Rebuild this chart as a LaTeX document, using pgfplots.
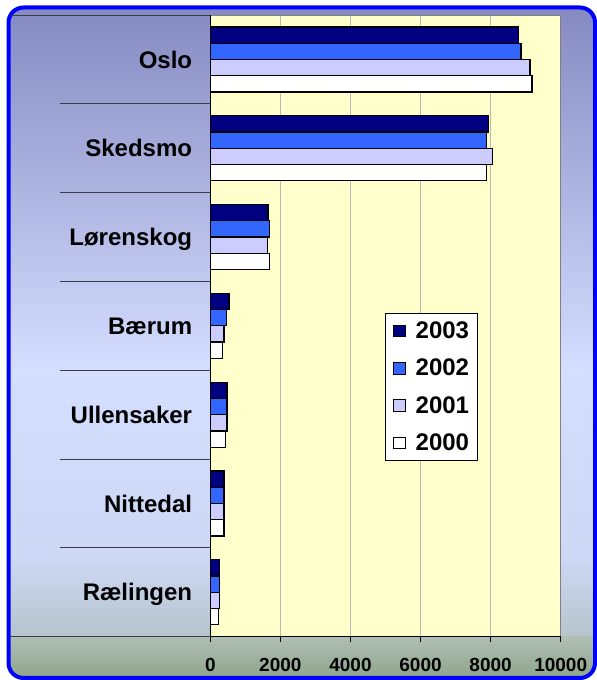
\documentclass[border=0pt]{standalone}
\usepackage{pgfplots}
\pgfplotsset{compat=1.18}
\usepackage{fontspec}
\setmainfont{Liberation Sans}
\definecolor{frameTop}{RGB}{132,136,192}
\definecolor{frameMid}{RGB}{212,222,255}
\definecolor{frameLow}{RGB}{204,216,244}
\definecolor{frameAx}{RGB}{182,196,204}
\definecolor{greenTop}{RGB}{176,190,182}
\definecolor{greenBot}{RGB}{140,164,136}
\definecolor{frameBlue}{RGB}{0,0,255}
\definecolor{plotYellow}{RGB}{255,255,204}
\definecolor{darkline}{RGB}{60,60,72}
\definecolor{cA}{RGB}{0,0,128}
\definecolor{cB}{RGB}{51,102,255}
\definecolor{cC}{RGB}{204,204,255}
\definecolor{cD}{RGB}{255,255,255}
\begin{document}
\begin{tikzpicture}
\path[use as bounding box] (0pt,0pt) rectangle (597pt,680pt);
\begin{scope}
\clip[rounded corners=15pt] (8.5pt,2pt) rectangle (595pt,672.5pt);
\shade[top color=frameTop,bottom color=frameMid] (0pt,310pt) rectangle (597pt,680pt);
\shade[top color=frameMid,bottom color=frameLow] (0pt,120pt) rectangle (597pt,310.5pt);
\shade[top color=frameLow,bottom color=frameAx] (0pt,43.3pt) rectangle (597pt,120.5pt);
\shade[top color=greenTop,bottom color=greenBot] (0pt,0pt) rectangle (597pt,43.5pt);
\end{scope}
\draw[line width=4pt,draw=frameBlue,rounded corners=15pt] (8.5pt,2pt) rectangle (595pt,672.5pt);
\begin{axis}[
  at={(210.3pt,43.3pt)}, anchor=south west, scale only axis,
  width=350.4pt, height=621.7pt,
  xbar, bar width=16.25pt,
  xmin=0, xmax=10000, ymin=-0.5, ymax=6.5,
  axis background/.style={fill=plotYellow},
  axis line style={draw=gray, line width=0.8pt},
  xtick={0,2000,4000,6000,8000,10000},
  xtick pos=bottom, ytick pos=left,
  tick align=outside, major tick length=5pt,
  tick style={draw=black, line width=0.8pt},
  ytick={0,1,2,3,4,5,6},
  yticklabels={Rælingen,Nittedal,Ullensaker,Bærum,Lørenskog,Skedsmo,Oslo},
  y tick style={draw=none},
  xmajorgrids,
  major grid style={draw=gray!55, line width=0.6pt},
  yticklabel style={font=\fontsize{24}{28}\selectfont\bfseries, anchor=base east, inner sep=0pt, xshift=-13pt, yshift=-8.6pt},
  xticklabel style={font=\fontsize{19}{22}\selectfont\bfseries, inner sep=0pt, anchor=north, yshift=-16pt},
  /pgf/number format/assume math mode=true,
  /pgf/number format/1000 sep={},
  scaled x ticks=false,
  every axis plot/.append style={draw=black, line width=1.2pt},
  legend image code/.code={\draw[#1,draw=black,line width=0.8pt] (0pt,-5.75pt) rectangle (11.5pt,5.75pt);},
  legend cell align=left,
  legend style={at={(0.4986,0.5199)}, anchor=north west, draw=black, line width=0.8pt, fill=white,
    font=\fontsize{24}{28}\selectfont\bfseries, inner sep=8pt, nodes={inner sep=0pt},
    row sep=19pt, /tikz/every odd column/.append style={column sep=10pt}},
]
\addplot[fill=cA, bar shift=24.375pt] coordinates {(8790,6) (7934,5) (1647,4) (534,3) (477,2) (391,1) (268,0)};
\addplot[fill=cB, bar shift=8.125pt] coordinates {(8867,6) (7877,5) (1684,4) (468,3) (477,2) (391,1) (259,0)};
\addplot[fill=cC, bar shift=-8.125pt] coordinates {(9124,6) (8048,5) (1637,4) (391,3) (477,2) (391,1) (259,0)};
\addplot[fill=cD, bar shift=-24.375pt] coordinates {(9181,6) (7877,5) (1684,4) (343,3) (429,2) (391,1) (229,0)};
\legend{2003,2002,2001,2000}
\end{axis}
\draw[black, line width=0.8pt] (210.3pt,43.3pt) -- (210.3pt,665pt);
\draw[black, line width=0.8pt] (210.3pt,43.3pt) -- (560.7pt,43.3pt);
\draw[darkline, line width=0.8pt] (10.5pt,665pt) -- (210.3pt,665pt);
\draw[darkline, line width=0.8pt] (10.5pt,43.3pt) -- (210.3pt,43.3pt);
\foreach \yy in {132.1,220.9,309.7,398.5,487.3,576.1} {
  \draw[darkline, line width=0.8pt] (60pt,\yy pt) -- (210.3pt,\yy pt);
}
\end{tikzpicture}
\end{document}
